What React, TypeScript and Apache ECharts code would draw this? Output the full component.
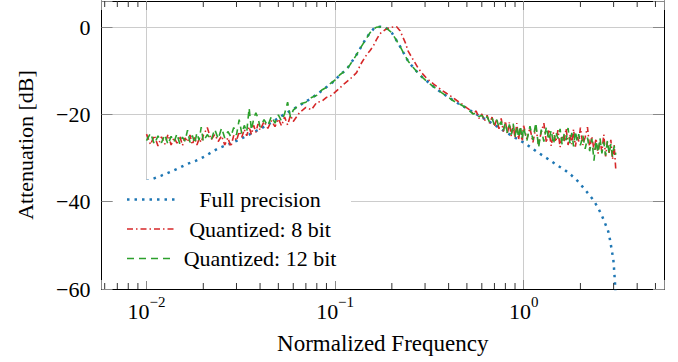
import React, { useEffect, useRef } from "react";
import * as echarts from "echarts";

const X_MIN = 0.00577;
const X_MAX = 5.55;
const Y_MIN = -60;
const Y_MAX = 6;

const seriesNames = ["Full precision", "Quantized: 8 bit", "Quantized: 12 bit"];
const seriesColors = ["#1f77b4", "#d62728", "#2ca02c"];

const minorTicks = [0.006, 0.007, 0.008, 0.009, 0.02, 0.03, 0.04, 0.05, 0.06, 0.07, 0.08, 0.09, 0.2, 0.3, 0.4, 0.5, 0.6, 0.7, 0.8, 0.9, 2, 3, 4, 5];

const fullFreq = [0.0100, 0.0120, 0.0133, 0.0150, 0.0163, 0.0183, 0.0204, 0.0226, 0.0245, 0.0282, 0.0333, 0.0409, 0.0470, 0.0531, 0.0650, 0.0766, 0.0890, 0.1000, 0.1060, 0.1150, 0.1300, 0.1440, 0.1530, 0.1600, 0.1660, 0.1730, 0.1840, 0.1920, 0.2000, 0.2100, 0.2210, 0.2440, 0.2650, 0.2870, 0.3320, 0.3670, 0.3910, 0.4420, 0.5000, 0.5640, 0.6200, 0.6900, 0.7500, 0.8130, 0.9000, 0.9950, 1.0800, 1.1700, 1.2700, 1.3800, 1.5000, 1.6500, 1.8000, 1.9500, 2.1600, 2.3400, 2.4900, 2.6000, 2.7000, 2.8100, 2.8700, 2.9300, 2.9900, 3.0100, 3.0300, 3.0500, 3.0700, 3.0900];
const fullDb = [-35.3, -34.0, -33.2, -32.2, -31.4, -30.6, -29.6, -28.4, -27.6, -26.6, -25.1, -23.1, -21.6, -20.1, -17.9, -16.0, -13.9, -12.2, -10.9, -9.7, -6.3, -3.0, -1.3, -0.4, 0, 0.1, 0, -0.6, -1.3, -2.8, -4.4, -7.8, -9.7, -11.3, -13.6, -15.0, -15.8, -17.3, -18.6, -20.0, -21.0, -22.2, -23.2, -24.2, -25.3, -26.4, -27.4, -28.5, -29.5, -30.5, -31.6, -32.7, -34.0, -35.4, -37.7, -39.6, -41.5, -43.2, -44.9, -46.8, -48.7, -51.0, -53.3, -54.8, -56.7, -58.5, -61.0, -65.0];

const qFreqLow = [
  0.0100, 0.0105, 0.0110, 0.0115, 0.0120, 0.0125, 0.0130, 0.0135, 0.0140, 0.0145,
  0.0150, 0.0155, 0.0160, 0.0165, 0.0170, 0.0175, 0.0180, 0.0185, 0.0190, 0.0195,
  0.0200,
  0.021, 0.022, 0.023, 0.024, 0.025, 0.026, 0.027, 0.028, 0.029, 0.030,
  0.031, 0.032, 0.033, 0.034, 0.035, 0.036, 0.037, 0.038, 0.039, 0.040,
  0.042, 0.044, 0.046, 0.048, 0.050, 0.052, 0.054, 0.056, 0.058, 0.060,
];
const q12Low = [
  -26.0, -24.3, -26.8, -24.9, -26.5, -24.6, -26.9, -25.0, -26.3, -24.4,
  -26.7, -25.2, -26.1, -23.6, -26.4, -24.8, -26.6, -24.2, -25.9, -22.9,
  -26.2,
  -24.6, -25.9, -23.4, -25.6, -23.1, -25.4, -23.9, -25.1, -23.0, -24.7,
  -21.2, -24.4, -22.5, -24.0, -18.5, -23.6, -21.0, -19.6, -20.8, -22.9,
  -21.2, -22.6, -20.4, -22.0, -20.1, -21.5, -19.8, -17.2, -20.6, -19.0,
];
const q8Low = [
  -24.5, -26.9, -24.8, -27.2, -25.1, -26.8, -24.6, -27.0, -25.3, -26.6,
  -24.9, -27.1, -25.4, -26.3, -24.7, -26.9, -25.2, -27.0, -25.6, -26.4,
  -24.8,
  -23.0, -25.8, -24.6, -26.2, -24.9, -27.0, -25.3, -27.4, -24.8, -26.0,
  -23.9, -25.2, -23.4, -24.9, -22.8, -24.6, -22.5, -24.1, -22.2, -23.6,
  -21.6, -23.2, -21.4, -22.8, -21.0, -22.6, -20.6, -22.4, -20.2, -21.6,
];

const qFreqMid = [
  0.065, 0.070, 0.075, 0.080, 0.085, 0.090, 0.095, 0.100, 0.106, 0.113,
  0.120, 0.130, 0.138, 0.147, 0.153, 0.160, 0.166, 0.173, 0.184, 0.192,
  0.200, 0.212, 0.221, 0.236, 0.244, 0.259, 0.275, 0.287, 0.304, 0.332,
  0.367, 0.391, 0.421, 0.442, 0.470, 0.500,
];
const q12Mid = [
  -17.6, -17.2, -16.1, -15.6, -14.4, -13.8, -12.8, -12.1, -10.9, -10.0,
  -8.6, -6.3, -4.4, -2.5, -1.3, -0.4, 0, 0.1, 0, -0.6,
  -1.3, -3.1, -4.4, -6.7, -7.8, -9.2, -10.5, -11.3, -12.3, -13.6,
  -15.0, -15.8, -16.8, -17.3, -17.9, -18.6,
];
const q8Mid = [
  -19.5, -18.4, -18.9, -17.2, -17.0, -16.1, -15.7, -14.9, -13.9, -12.8,
  -11.9, -10.4, -8.2, -6.3, -5.4, -4.2, -2.8, -1.5, -0.6, -0.2,
  0, 0.1, -0.8, -3.6, -5.5, -7.4, -9.3, -10.4, -11.6, -13.0,
  -14.4, -15.2, -16.1, -16.8, -17.6, -18.5,
];

const qFreqHigh = [
  0.52, 0.54, 0.56, 0.58, 0.60, 0.62, 0.64, 0.66, 0.68, 0.70,
  0.72, 0.74, 0.76, 0.78, 0.80, 0.82, 0.84, 0.86, 0.88, 0.90,
  0.92, 0.94, 0.96, 0.98, 1.00,
  1.04, 1.08, 1.12, 1.16, 1.20, 1.24, 1.28, 1.32, 1.36, 1.40,
  1.44, 1.48, 1.52, 1.56, 1.60, 1.64, 1.68, 1.72, 1.76, 1.80,
  1.84, 1.88, 1.92, 1.96, 2.00,
  2.06, 2.12, 2.18, 2.24, 2.30, 2.36, 2.42, 2.48, 2.54, 2.60,
  2.66, 2.72, 2.78, 2.84, 2.90, 2.96, 3.02, 3.08,
];
const q12High = [
  -19.3, -19.9, -19.6, -20.5, -20.2, -21.2, -20.5, -21.8, -20.9, -22.4,
  -21.2, -23.0, -21.6, -23.6, -21.9, -24.2, -22.3, -24.6, -22.1, -25.0,
  -22.8, -25.3, -22.6, -25.6, -23.0,
  -26.0, -22.7, -25.8, -21.9, -27.6, -23.5, -26.2, -22.8, -25.9, -23.6,
  -26.8, -24.0, -25.5, -23.3, -27.0, -24.4, -25.9, -23.1, -26.6, -24.2,
  -27.3, -23.8, -26.0, -24.5, -27.1,
  -24.8, -27.9, -25.3, -28.4, -25.6, -30.6, -26.0, -28.7, -25.4, -28.9,
  -26.3, -29.4, -26.0, -29.0, -26.8, -29.6, -27.2, -29.2,
];
const q8High = [
  -19.0, -19.8, -19.2, -20.9, -19.9, -21.5, -20.2, -22.0, -20.6, -22.8,
  -21.0, -23.3, -20.9, -23.9, -21.5, -24.5, -21.8, -25.0, -22.4, -25.4,
  -22.0, -25.8, -22.9, -26.1, -22.6,
  -25.6, -23.1, -26.4, -23.0, -26.9, -24.0, -22.0, -26.5, -23.4, -27.2,
  -24.1, -26.3, -23.6, -27.5, -24.8, -26.1, -23.2, -27.0, -24.6, -26.8,
  -23.4, -27.4, -24.9, -26.2, -23.0,
  -27.0, -25.2, -22.9, -27.8, -25.0, -28.2, -25.5, -29.0, -26.1, -28.5,
  -24.6, -29.6, -26.3, -28.8, -25.8, -30.3, -27.0, -32.6,
];

const FONT = "'Liberation Serif', 'DejaVu Serif', serif";

const zip = (xs: number[], ys: number[]) => xs.map((x, i) => [x, ys[i]]);

const lineDashes: number[][] = [[2.5, 5], [6, 3, 1.5, 3], [7, 5]];
const lineWidths = [2.5, 1.6, 1.6];

export default function App() {
  const ref = useRef<HTMLDivElement>(null);

  useEffect(() => {
    if (!ref.current) return;
    const chart = echarts.init(ref.current, undefined, { renderer: "svg" });

    const qFreq = [...qFreqLow, ...qFreqMid, ...qFreqHigh];
    const q8 = [...q8Low, ...q8Mid, ...q8High];
    const q12 = [...q12Low, ...q12Mid, ...q12High];
    const seriesData = [zip(fullFreq, fullDb), zip(qFreq, q8), zip(qFreq, q12)];

    const xLabelFormatter = (v: number) => {
      const l = Math.log10(v);
      const e = Math.round(l);
      if (Math.abs(l - e) > 1e-6) return "";
      return `{b|10}{s|${e < 0 ? "\u2212" : ""}${Math.abs(e)}}`;
    };
    const yLabelFormatter = (v: number) => {
      if (v > 0) return "";
      return v < 0 ? "\u2212" + Math.abs(v) : String(v);
    };

    const legendRows = [199.5, 229, 258.5];
    const graphicEls: any[] = [
      {
        type: "rect",
        z: 100,
        silent: true,
        shape: { x: 113, y: 180, width: 238, height: 101 },
        style: { fill: "#ffffff" },
      },
    ];
    seriesNames.forEach((name, i) => {
      graphicEls.push({
        type: "line",
        z: 101,
        silent: true,
        shape: { x1: 127, y1: legendRows[i], x2: 175, y2: legendRows[i] },
        style: { stroke: seriesColors[i], lineWidth: lineWidths[i], lineDash: lineDashes[i] },
      });
      graphicEls.push({
        type: "text",
        z: 101,
        silent: true,
        x: 260,
        y: legendRows[i],
        style: {
          text: name,
          fill: "#000",
          fontSize: 22,
          fontFamily: FONT,
          align: "center",
          verticalAlign: "middle",
          textAlign: "center",
          textVerticalAlign: "middle",
        },
      });
    });

    const option: any = {
      animation: false,
      backgroundColor: "#ffffff",
      grid: { left: 101.5, right: 14, top: 1, bottom: 73, containLabel: false, outerBoundsMode: "none" },
      xAxis: [
        {
          type: "log",
          logBase: 10,
          min: X_MIN,
          max: X_MAX,
          position: "bottom",
          name: "Normalized Frequency",
          nameLocation: "middle",
          nameGap: 43,
          nameTextStyle: { fontFamily: FONT, fontSize: 23, color: "#000" },
          axisLine: { show: true, onZero: false, lineStyle: { color: "#000", width: 1 } },
          axisTick: { show: true, inside: true, length: 9, lineStyle: { color: "#888", width: 1 } },
          splitLine: { show: true, lineStyle: { color: "#cccccc", width: 1 } },
          minorTick: { show: false },
          axisLabel: {
            show: true,
            margin: 5,
            formatter: xLabelFormatter,
            rich: {
              b: { fontFamily: FONT, fontSize: 22, color: "#000", lineHeight: 28, verticalAlign: "bottom" },
              s: { fontFamily: FONT, fontSize: 15, color: "#000", lineHeight: 28, verticalAlign: "top" },
            },
          },
        },
        {
          type: "log",
          logBase: 10,
          min: X_MIN,
          max: X_MAX,
          position: "top",
          axisLine: { show: true, onZero: false, lineStyle: { color: "#000", width: 1 } },
          axisTick: { show: true, inside: true, length: 9, lineStyle: { color: "#888", width: 1 } },
          axisLabel: { show: false },
          splitLine: { show: false },
        },
      ],
      yAxis: [
        {
          type: "value",
          min: Y_MIN,
          max: Y_MAX,
          interval: 20,
          position: "left",
          name: "Attenuation [dB]",
          nameLocation: "middle",
          nameGap: 65,
          nameRotate: 90,
          nameTextStyle: { fontFamily: FONT, fontSize: 22, color: "#000" },
          axisLine: { show: true, onZero: false, lineStyle: { color: "#000", width: 1 } },
          axisTick: { show: true, inside: true, length: 11, lineStyle: { color: "#888", width: 1 } },
          splitLine: { show: true, lineStyle: { color: "#cccccc", width: 1 } },
          axisLabel: { show: true, margin: 11, formatter: yLabelFormatter, fontFamily: FONT, fontSize: 22, color: "#000" },
        },
        {
          type: "value",
          min: Y_MIN,
          max: Y_MAX,
          interval: 20,
          position: "right",
          axisLine: { show: true, onZero: false, lineStyle: { color: "#000", width: 1 } },
          axisTick: { show: true, inside: true, length: 11, lineStyle: { color: "#888", width: 1 } },
          axisLabel: { show: false },
          splitLine: { show: false },
        },
      ],
      series: [
        {
          type: "custom",
          name: "minor ticks",
          xAxisIndex: 0,
          yAxisIndex: 0,
          silent: true,
          z: 5,
          data: minorTicks.map((v) => [v, Y_MIN]),
          renderItem: (params: any, api: any) => {
            const cs = params.coordSys;
            const x = api.coord([api.value(0), Y_MIN])[0];
            const top = cs.y;
            const bottom = cs.y + cs.height;
            return {
              type: "group",
              children: [
                { type: "line", shape: { x1: x, y1: bottom, x2: x, y2: bottom - 6 }, style: { stroke: "#333", lineWidth: 1 } },
                { type: "line", shape: { x1: x, y1: top, x2: x, y2: top + 6 }, style: { stroke: "#333", lineWidth: 1 } },
              ],
            };
          },
        },
        ...seriesNames.map((name, i) => ({
          type: "line",
          name,
          xAxisIndex: 0,
          yAxisIndex: 0,
          data: seriesData[i],
          showSymbol: false,
          symbol: "none",
          clip: true,
          z: 2 + i,
          lineStyle: { color: seriesColors[i], width: lineWidths[i], type: lineDashes[i] },
        })),
      ],
      graphic: { elements: graphicEls },
    };

    chart.setOption(option);
    return () => chart.dispose();
  }, []);

  return (
    <div
      ref={ref}
      style={{ position: "fixed", left: 0, top: 0, width: 678, height: 362, background: "#fff" }}
    />
  );
}
